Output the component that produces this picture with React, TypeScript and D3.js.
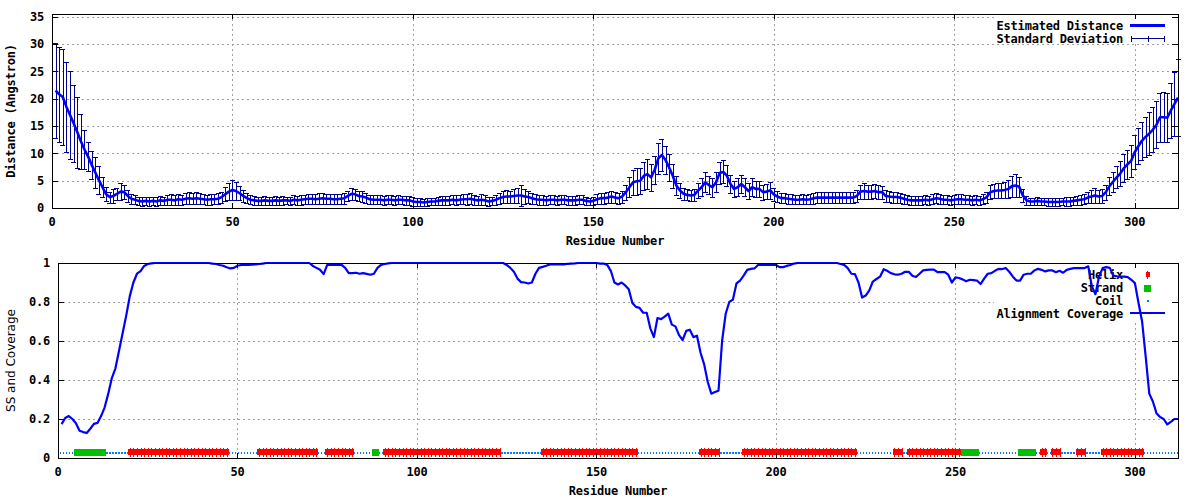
import React from 'react';
import * as d3 from 'd3';

// ---------- DATA ----------
const residues: number[] = d3.range(1, 313); // residue numbers 1..312
const xMax = 312;
const yMaxTop = 35.5;

const meanDistance: number[] = [
  21.5, 20.8, 20.3, 18.5, 17.0, 15.5, 13.9, 12.2, 10.7, 9.4, 7.9, 6.5, 5.1, 3.8, 2.5,
  2.0, 2.2, 2.6, 3.0, 2.9, 2.2, 1.7, 1.5, 1.3, 1.2, 1.3, 1.2, 1.3, 1.2, 1.4,
  1.3, 1.5, 1.5, 1.4, 1.6, 1.5, 1.7, 1.8, 1.7, 1.8, 1.7, 1.6, 1.5, 1.6, 1.6,
  1.7, 2.0, 2.5, 3.0, 3.3, 3.1, 2.7, 2.2, 1.8, 1.5, 1.4, 1.3, 1.3, 1.4, 1.3,
  1.3, 1.4, 1.3, 1.4, 1.4, 1.3, 1.5, 1.4, 1.5, 1.6, 1.7, 1.7, 1.6, 1.7, 1.8,
  1.7, 1.7, 1.6, 1.6, 1.7, 1.8, 2.2, 2.6, 2.5, 2.2, 2.1, 1.9, 1.6, 1.5, 1.5,
  1.5, 1.4, 1.5, 1.5, 1.4, 1.5, 1.5, 1.4, 1.4, 1.2, 1.1, 1.1, 1.0, 1.1, 1.2,
  1.2, 1.3, 1.4, 1.4, 1.4, 1.5, 1.4, 1.5, 1.6, 1.6, 1.7, 1.5, 1.4, 1.5, 1.4,
  1.2, 1.3, 1.5, 1.8, 2.0, 2.1, 2.1, 2.2, 2.3, 2.3, 2.1, 2.0, 1.8, 1.6, 1.5,
  1.5, 1.4, 1.5, 1.5, 1.4, 1.5, 1.5, 1.4, 1.4, 1.4, 1.5, 1.5, 1.3, 1.2, 1.3,
  1.6, 1.8, 1.8, 1.9, 2.1, 1.9, 1.8, 2.1, 2.9, 3.8, 4.7, 4.9, 5.0, 5.9, 6.2,
  5.6, 7.0, 9.1, 9.7, 8.8, 7.4, 5.9, 4.1, 3.2, 2.6, 2.4, 2.3, 2.4, 3.2, 3.8,
  4.7, 4.2, 3.8, 4.7, 6.4, 6.6, 5.9, 4.4, 3.5, 3.8, 4.4, 3.8, 3.1, 3.8, 3.5,
  3.5, 2.9, 3.0, 3.2, 2.5, 2.1, 1.8, 1.8, 1.7, 1.6, 1.5, 1.5, 1.6, 1.5, 1.6,
  1.8, 1.9, 1.9, 1.9, 1.9, 1.9, 1.9, 1.9, 1.9, 1.9, 1.9, 1.9, 2.2, 3.0, 3.1,
  3.0, 3.0, 3.1, 2.9, 2.9, 2.2, 2.1, 2.0, 2.0, 1.9, 1.7, 1.5, 1.4, 1.4, 1.4,
  1.4, 1.5, 1.4, 1.6, 1.8, 1.7, 1.5, 1.5, 1.4, 1.5, 1.6, 1.6, 1.5, 1.5, 1.4,
  1.5, 1.4, 1.6, 2.0, 2.9, 3.1, 3.2, 3.2, 3.3, 3.5, 4.0, 4.1, 3.9, 2.3, 1.4,
  1.2, 1.2, 1.3, 1.2, 1.2, 1.1, 1.1, 1.1, 1.1, 1.2, 1.2, 1.2, 1.3, 1.4, 1.5,
  1.6, 1.9, 2.1, 2.3, 2.1, 2.2, 2.9, 4.0, 4.8, 5.6, 6.3, 7.3, 8.0, 8.6, 10.2,
  11.3, 12.3, 13.0, 13.6, 14.3, 15.2, 16.6, 16.6, 16.5, 17.8, 19.0, 20.2,
];

const stdDeviation: number[] = [
  8.7, 8.7, 8.8, 8.3, 8.0, 7.0, 6.5, 5.0, 3.5, 2.6, 2.6, 2.8, 2.6, 1.8, 1.3,
  1.0, 1.2, 1.1, 1.6, 1.3, 1.1, 0.9, 0.8, 0.8, 0.8, 0.7, 0.8, 0.8, 0.8, 0.8,
  0.8, 0.9, 1.0, 0.9, 1.0, 0.9, 1.0, 1.1, 1.0, 1.1, 1.0, 0.9, 0.9, 1.0, 0.9,
  1.0, 1.0, 1.3, 1.6, 1.8, 1.6, 1.3, 1.1, 0.9, 0.8, 0.8, 0.7, 0.8, 0.8, 0.7,
  0.7, 0.8, 0.8, 0.8, 0.7, 0.7, 0.8, 0.8, 0.9, 0.8, 0.9, 0.9, 0.9, 1.0, 1.0,
  0.9, 0.9, 0.9, 0.9, 0.9, 1.0, 1.0, 1.1, 1.0, 1.0, 1.0, 0.9, 0.8, 0.8, 0.8,
  0.8, 0.8, 0.8, 0.8, 0.8, 0.8, 0.7, 0.8, 0.8, 0.9, 0.8, 0.7, 0.7, 0.8, 0.7,
  0.7, 0.8, 0.8, 0.8, 0.8, 0.8, 0.9, 0.8, 0.9, 1.0, 1.0, 0.9, 0.8, 1.0, 0.9,
  0.8, 0.8, 0.9, 1.0, 1.1, 1.2, 1.1, 1.2, 1.3, 2.0, 1.3, 1.1, 1.0, 0.9, 0.9,
  0.9, 0.8, 0.8, 0.8, 0.8, 0.8, 0.8, 0.8, 0.8, 0.8, 0.8, 0.8, 0.8, 0.7, 0.8,
  0.9, 1.0, 1.0, 1.0, 1.1, 1.0, 1.0, 1.1, 1.4, 1.8, 2.3, 2.5, 2.4, 2.6, 2.7,
  2.5, 2.6, 2.8, 3.0, 2.6, 2.4, 2.2, 1.7, 1.3, 1.1, 1.0, 1.0, 1.1, 1.4, 1.6,
  1.8, 1.7, 1.7, 1.8, 2.0, 2.1, 1.9, 1.7, 1.5, 1.6, 1.7, 1.6, 1.5, 1.6, 1.5,
  1.5, 1.4, 1.4, 1.5, 1.2, 1.0, 0.9, 0.9, 0.9, 0.9, 0.8, 0.8, 0.9, 0.8, 0.9,
  1.0, 1.0, 1.0, 1.0, 1.0, 1.0, 1.0, 1.0, 1.0, 1.0, 1.0, 1.0, 1.1, 1.3, 1.4,
  1.3, 1.3, 1.3, 1.3, 1.2, 1.1, 1.0, 1.0, 1.0, 0.9, 0.9, 0.8, 0.8, 0.8, 0.8,
  0.8, 0.8, 0.8, 0.9, 0.9, 0.9, 0.8, 0.8, 0.8, 0.8, 0.9, 0.9, 0.8, 0.8, 0.8,
  0.8, 0.8, 0.9, 1.0, 1.3, 1.3, 1.4, 1.4, 1.5, 1.6, 1.9, 2.1, 1.8, 1.2, 0.8,
  0.7, 0.7, 0.8, 0.7, 0.7, 0.7, 0.7, 0.7, 0.7, 0.7, 0.8, 0.8, 0.8, 0.8, 0.9,
  0.9, 1.0, 1.2, 1.3, 1.2, 1.2, 1.4, 1.6, 1.8, 2.0, 2.3, 2.5, 2.7, 2.9, 3.1,
  3.3, 3.5, 3.7, 3.9, 4.1, 4.3, 4.5, 4.6, 4.5, 5.0, 5.8, 7.0,
];

const coverage: number[] = [
  0.174, 0.205, 0.215, 0.2, 0.178, 0.14, 0.133, 0.128, 0.15, 0.175,
  0.18, 0.215, 0.26, 0.33, 0.41, 0.46, 0.55, 0.64, 0.73, 0.83,
  0.9, 0.945, 0.958, 0.985, 0.995, 0.998, 1, 1, 1, 1,
  1, 1, 1, 1, 1, 1, 1, 1, 1, 1,
  1, 1, 0.997, 0.995, 0.99, 0.986, 0.978, 0.972, 0.975, 0.986,
  0.99, 0.99, 0.99, 0.992, 0.993, 0.995, 0.997, 1, 1, 1,
  1, 1, 1, 1, 1, 1, 1, 1, 1, 1,
  0.985, 0.975, 0.965, 0.943, 0.99, 0.99, 0.99, 0.99, 0.99, 0.975,
  0.948, 0.948, 0.95, 0.945, 0.948, 0.944, 0.94, 0.945, 0.975, 0.99,
  0.995, 0.998, 1, 1, 1, 1, 1, 1, 1, 1,
  1, 1, 1, 1, 1, 1, 1, 1, 1, 1,
  1, 1, 1, 1, 1, 1, 1, 1, 1, 1,
  1, 1, 1, 1, 0.99, 0.975, 0.955, 0.92, 0.902, 0.9,
  0.895, 0.9, 0.945, 0.975, 0.98, 0.986, 0.993, 0.993, 0.993, 0.993,
  0.993, 0.996, 0.997, 0.998, 1, 1, 1, 1, 1, 1,
  0.997, 0.997, 0.99, 0.96, 0.9, 0.89, 0.9, 0.885, 0.865, 0.795,
  0.775, 0.77, 0.745, 0.745, 0.665, 0.62, 0.718, 0.712, 0.725, 0.74,
  0.684, 0.675, 0.63, 0.605, 0.652, 0.658, 0.62, 0.627, 0.54, 0.48,
  0.39, 0.33, 0.338, 0.345, 0.6, 0.74, 0.8, 0.812, 0.895, 0.91,
  0.935, 0.965, 0.97, 0.972, 0.99, 0.99, 0.99, 0.99, 0.99, 0.99,
  0.979, 0.979, 0.985, 0.99, 0.997, 1, 1, 1, 1, 1,
  1, 1, 1, 1, 1, 1, 1, 0.995, 0.99, 0.974,
  0.945, 0.943, 0.9, 0.823, 0.833, 0.86, 0.905, 0.918, 0.93, 0.968,
  0.96, 0.948, 0.942, 0.94, 0.945, 0.955, 0.955, 0.935, 0.928, 0.945,
  0.962, 0.965, 0.966, 0.966, 0.953, 0.953, 0.953, 0.94, 0.9, 0.926,
  0.923, 0.916, 0.906, 0.914, 0.912, 0.91, 0.892, 0.92, 0.945, 0.948,
  0.96, 0.97, 0.969, 0.974, 0.955, 0.93, 0.91, 0.91, 0.94, 0.945,
  0.945, 0.962, 0.97, 0.965, 0.957, 0.962, 0.962, 0.953, 0.96, 0.95,
  0.965, 0.97, 0.974, 0.974, 0.974, 0.974, 0.983, 0.88, 0.84, 0.93,
  0.974, 0.979, 0.975, 0.935, 0.932, 0.93, 0.93, 0.928, 0.914, 0.897,
  0.795, 0.7, 0.52, 0.33, 0.29, 0.23, 0.21, 0.2, 0.172, 0.185,
  0.2, 0.2,
];

// secondary structure runs: [type, firstResidue, lastResidue]
const ssRuns: [string, number, number][] = [
  ['C', 1, 4], ['E', 5, 13], ['C', 14, 19], ['H', 20, 47], ['C', 48, 55],
  ['H', 56, 72], ['C', 73, 74], ['H', 75, 82], ['C', 83, 87], ['E', 88, 89],
  ['C', 90, 90], ['H', 91, 123], ['C', 124, 134], ['H', 135, 161], ['C', 162, 178],
  ['H', 179, 184], ['C', 185, 190], ['H', 191, 222], ['C', 223, 232], ['H', 233, 235],
  ['C', 236, 236], ['H', 237, 251], ['E', 252, 256], ['C', 257, 267], ['E', 268, 272],
  ['C', 273, 273], ['H', 274, 275], ['C', 276, 276], ['H', 277, 279], ['C', 280, 283],
  ['H', 284, 286], ['C', 287, 290], ['H', 291, 302], ['C', 303, 312],
];
const ssLevel = 0.03;

const xTicks = [0, 50, 100, 150, 200, 250, 300];
const yTicksTop = [0, 5, 10, 15, 20, 25, 30, 35];
const yTicksBottom = [0, 0.2, 0.4, 0.6, 0.8, 1];
const topLegend = ['Estimated Distance', 'Standard Deviation'];
const bottomLegend = ['Helix', 'Strand', 'Coil', 'Alignment Coverage'];

// ---------- STYLE ----------
const MONO = '"DejaVu Sans Mono", "Liberation Mono", monospace';
const SANS = '"DejaVu Sans", "Liberation Sans", sans-serif';
const GRID = '#a0a0a0';
const BLUE = '#0000ff';
const ERR = '#00008f';
const HELIX = '#ff0000';
const STRAND = '#00c000';
const COIL = '#0080ff';

const T = { l: 52, r: 1178, t: 14, b: 208 };
const B = { l: 58, r: 1178, t: 263, b: 458 };

const xT = d3.scaleLinear().domain([0, xMax]).range([T.l, T.r]);
const yT = d3.scaleLinear().domain([0, yMaxTop]).range([T.b, T.t]);
const xB = d3.scaleLinear().domain([0, xMax]).range([B.l, B.r]);
const yB = d3.scaleLinear().domain([0, 1]).range([B.b, B.t]);

const txt = {
  fontFamily: MONO,
  fontWeight: 700 as const,
  fontSize: 12,
  letterSpacing: -0.2,
  fill: '#000',
};

const px = (v: number) => Math.round(v) + 0.5;

function Legend({ x, ys, labels }: { x: number; ys: number[]; labels: string[] }) {
  return (
    <g>
      {labels.map((l, i) => (
        <text key={l} x={x} y={ys[i]} dy="0.35em" textAnchor="end" style={txt}>
          {l}
        </text>
      ))}
    </g>
  );
}

export default function App() {
  const meanLine = d3
    .line<number>()
    .x((_, i) => xT(residues[i]))
    .y((d) => yT(d))(meanDistance) as string;
  const covLine = d3
    .line<number>()
    .x((_, i) => xB(residues[i]))
    .y((d) => yB(d))(coverage) as string;

  const ssY = yB(ssLevel);
  const cap = 2.5;

  return (
    <svg
      width={1200}
      height={500}
      style={{ position: 'absolute', left: 0, top: 0, background: '#fff' }}
      shapeRendering="crispEdges"
    >
      <rect x={0} y={0} width={1200} height={500} fill="#fff" />

      {/* ================= TOP CHART ================= */}
      <g>
        {xTicks.filter((t) => t > 0).map((t) => (
          <line key={'tgx' + t} x1={px(xT(t))} x2={px(xT(t))} y1={T.t} y2={T.b} stroke={GRID} strokeDasharray="2,3" />
        ))}
        {yTicksTop.filter((t) => t > 0).map((t) => (
          <line key={'tgy' + t} x1={T.l} x2={T.r} y1={px(yT(t))} y2={px(yT(t))} stroke={GRID} strokeDasharray="2,3" />
        ))}
        {/* legend box (opaque) */}
        <rect x={994} y={16} width={178} height={28} fill="#fff" />
        <Legend x={1123} ys={[26, 39]} labels={topLegend} />
        <line x1={1130} x2={1165} y1={25.5} y2={25.5} stroke={BLUE} strokeWidth={3} />
        <line x1={1131} x2={1165} y1={38.5} y2={38.5} stroke={ERR} />
        {[1131.5, 1148, 1164.5].map((cx) => (
          <line key={cx} x1={cx} x2={cx} y1={35.5} y2={41.5} stroke={ERR} />
        ))}

        {/* error bars */}
        {residues.map((r, i) => {
          const x = xT(r);
          const lo = yT(Math.max(0, meanDistance[i] - stdDeviation[i]));
          const hi = yT(meanDistance[i] + stdDeviation[i]);
          return (
            <g key={'eb' + r} stroke={ERR} strokeWidth={1}>
              <line x1={px(x)} x2={px(x)} y1={hi} y2={lo} />
              <line x1={x - cap} x2={x + cap} y1={px(hi)} y2={px(hi)} />
              <line x1={x - cap} x2={x + cap} y1={px(lo)} y2={px(lo)} />
            </g>
          );
        })}
        <path d={meanLine} fill="none" stroke={BLUE} strokeWidth={2.6} shapeRendering="auto" strokeLinejoin="round" />

        {/* ticks */}
        {yTicksTop.map((t) => (
          <g key={'tty' + t} stroke="#000">
            <line x1={T.l} x2={T.l + 6} y1={px(yT(t))} y2={px(yT(t))} />
            <line x1={T.r - 6} x2={T.r} y1={px(yT(t))} y2={px(yT(t))} />
          </g>
        ))}
        {xTicks.map((t) => (
          <g key={'ttx' + t} stroke="#000">
            <line x1={px(xT(t))} x2={px(xT(t))} y1={T.b - 5} y2={T.b} />
            <line x1={px(xT(t))} x2={px(xT(t))} y1={T.t} y2={T.t + 5} />
          </g>
        ))}
        <rect x={T.l + 0.5} y={T.t + 0.5} width={T.r - T.l} height={T.b - T.t} fill="none" stroke="#000" />

        {yTicksTop.map((t) => (
          <text key={'tly' + t} x={44} y={yT(t)} dy="0.35em" textAnchor="end" style={txt}>
            {t}
          </text>
        ))}
        {xTicks.map((t) => (
          <text key={'tlx' + t} x={xT(t)} y={222} dy="0.35em" textAnchor="middle" style={txt}>
            {t}
          </text>
        ))}
        <text x={(T.l + T.r) / 2} y={240.5} dy="0.35em" textAnchor="middle" style={txt}>
          Residue Number
        </text>
        <text
          transform={`translate(10.5,${(T.t + T.b) / 2}) rotate(-90)`}
          dy="0.35em"
          textAnchor="middle"
          style={txt}
        >
          Distance (Angstron)
        </text>
      </g>

      {/* ================= BOTTOM CHART ================= */}
      <g>
        {xTicks.filter((t) => t > 0).map((t) => (
          <line key={'bgx' + t} x1={px(xB(t))} x2={px(xB(t))} y1={B.t} y2={B.b} stroke={GRID} strokeDasharray="2,3" />
        ))}
        {yTicksBottom.filter((t) => t > 0 && t < 1).map((t) => (
          <line key={'bgy' + t} x1={B.l} x2={B.r} y1={px(yB(t))} y2={px(yB(t))} stroke={GRID} strokeDasharray="2,3" />
        ))}
        <rect x={994} y={266} width={178} height={54} fill="#fff" />
        <Legend x={1123} ys={[274.5, 288, 301, 314]} labels={bottomLegend} />
        <rect x={1145.5} y={272} width={4} height={5} fill={HELIX} />
        <rect x={1147} y={270.5} width={1} height={8} fill={HELIX} />
        <rect x={1144} y={284.5} width={7} height={7} fill={STRAND} />
        <rect x={1147} y={300} width={1.5} height={1.5} fill={COIL} />
        <line x1={1130} x2={1165} y1={313} y2={313} stroke={BLUE} strokeWidth={2.5} />

        {/* secondary structure */}
        {ssRuns.map(([type, a, b], k) => {
          if (type === 'C') {
            return (
              <line
                key={'ss' + k}
                x1={xB(a - 0.5)}
                x2={xB(b + 0.5)}
                y1={Math.round(ssY) + 0.75}
                y2={Math.round(ssY) + 0.75}
                stroke={COIL}
                strokeWidth={1.5}
                strokeDasharray="1.2,1.8"
              />
            );
          }
          if (type === 'E') {
            return (
              <rect
                key={'ss' + k}
                x={xB(a - 0.5)}
                y={ssY - 3.5}
                width={xB(b + 0.5) - xB(a - 0.5)}
                height={7}
                fill={STRAND}
              />
            );
          }
          return (
            <g key={'ss' + k} fill={HELIX}>
              {d3.range(a, b + 1).map((r) => (
                <g key={r}>
                  <rect x={xB(r - 0.5)} y={ssY - 3} width={xB(r + 0.5) - xB(r - 0.5)} height={6} />
                  <rect x={Math.round(xB(r))} y={ssY - 4.5} width={1} height={9} />
                </g>
              ))}
            </g>
          );
        })}

        <path d={covLine} fill="none" stroke={BLUE} strokeWidth={2.2} shapeRendering="auto" strokeLinejoin="round" />

        {yTicksBottom.map((t) => (
          <g key={'bty' + t} stroke="#000">
            <line x1={B.l} x2={B.l + 6} y1={px(yB(t))} y2={px(yB(t))} />
            <line x1={B.r - 6} x2={B.r} y1={px(yB(t))} y2={px(yB(t))} />
          </g>
        ))}
        {xTicks.map((t) => (
          <g key={'btx' + t} stroke="#000">
            <line x1={px(xB(t))} x2={px(xB(t))} y1={B.b - 5} y2={B.b} />
            <line x1={px(xB(t))} x2={px(xB(t))} y1={B.t} y2={B.t + 5} />
          </g>
        ))}
        <rect x={B.l + 0.5} y={B.t + 0.5} width={B.r - B.l} height={B.b - B.t} fill="none" stroke="#000" />

        {yTicksBottom.map((t) => (
          <text key={'bly' + t} x={50} y={yB(t)} dy="0.35em" textAnchor="end" style={txt}>
            {t}
          </text>
        ))}
        {xTicks.map((t) => (
          <text key={'blx' + t} x={xB(t)} y={471.5} dy="0.35em" textAnchor="middle" style={txt}>
            {t}
          </text>
        ))}
        <text x={(B.l + B.r) / 2} y={490.5} dy="0.35em" textAnchor="middle" style={txt}>
          Residue Number
        </text>
        <text
          transform={`translate(11,${(B.t + B.b) / 2}) rotate(-90)`}
          dy="0.35em"
          textAnchor="middle"
          style={{ fontFamily: SANS, fontSize: 12, fill: '#000' }}
        >
          SS and Coverage
        </text>
      </g>
    </svg>
  );
}
